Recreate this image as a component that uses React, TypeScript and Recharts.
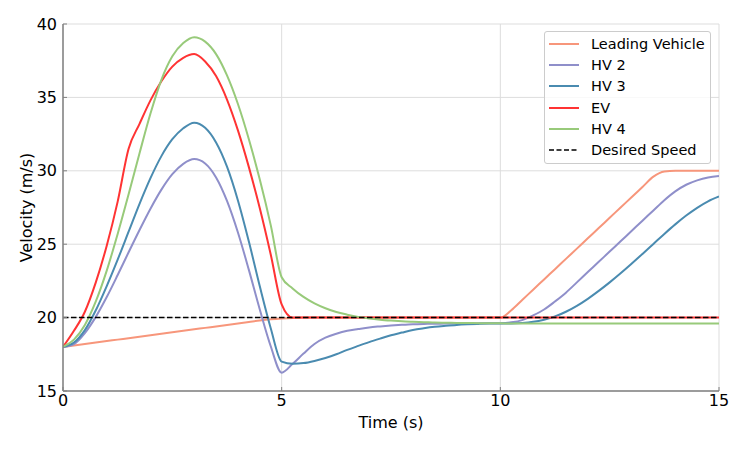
import { LineChart, Line, XAxis, YAxis, CartesianGrid, Legend, Label, ReferenceLine } from 'recharts';

// sampling grid, 0.25 s steps from 0 to 15 s
const TIME = Array.from({ length: 61 }, (_, i) => i * 0.25);

const LEADING = [
  18.0, 18.1, 18.2, 18.3, 18.4,
  18.5, 18.6, 18.7, 18.8,
  18.9, 19.0, 19.1, 19.2,
  19.3, 19.4, 19.5, 19.6,
  19.7, 19.8, 19.88, 19.94,
  19.98, 20, 20, 20,
  20, 20, 20, 20,
  20, 20, 20, 20,
  20, 20, 20, 20,
  20, 20, 20, 20,
  20.5, 21.2, 21.9, 22.6,
  23.3, 24.0, 24.7, 25.4,
  26.1, 26.8, 27.5, 28.2,
  28.9, 29.6, 29.95, 30,
  30, 30, 30, 30,
];

const HV2 = [
  18.0, 18.2, 18.95, 20.05, 21.4,
  22.9, 24.45, 25.97, 27.42,
  28.72, 29.77, 30.47, 30.8,
  30.5, 29.55, 27.95, 25.8,
  23.25, 20.55, 18.05, 16.25,
  16.85, 17.55, 18.2, 18.63,
  18.9, 19.1, 19.22, 19.33,
  19.4, 19.46, 19.51, 19.55,
  19.57, 19.58, 19.59, 19.6,
  19.6, 19.61, 19.61, 19.62,
  19.68, 19.83, 20.15, 20.55,
  21.1, 21.7, 22.4, 23.1,
  23.8, 24.5, 25.2, 25.9,
  26.6, 27.3, 28.0, 28.6,
  29.05, 29.35, 29.55, 29.65,
];

const HV3 = [
  18.0, 18.3, 19.15, 20.5, 22.15,
  23.95, 25.85, 27.75, 29.5,
  31.0, 32.15, 32.9, 33.28,
  32.93, 31.93, 30.28, 27.98,
  25.18, 22.13, 19.28, 17.0,
  16.85, 16.9, 17.05, 17.25,
  17.5, 17.8, 18.07, 18.33,
  18.57, 18.8, 18.98, 19.15,
  19.27, 19.37, 19.44, 19.5,
  19.54, 19.57, 19.59, 19.6,
  19.6, 19.63, 19.71, 19.86,
  20.08, 20.4, 20.8, 21.28,
  21.82, 22.4, 23.02, 23.67,
  24.34, 25.02, 25.7, 26.35,
  26.95, 27.48, 27.92, 28.25,
];

const EV = [
  18.0, 19.1, 20.4, 22.4, 24.9,
  27.9, 31.5, 33.2, 34.8,
  36.1, 37.1, 37.7, 37.95,
  37.45, 36.45, 34.85, 32.75,
  30.25, 27.45, 24.3, 20.9,
  20, 20, 20, 20,
  20, 20, 20, 20,
  20, 20, 20, 20,
  20, 20, 20, 20,
  20, 20, 20, 20,
  20, 20, 20, 20,
  20, 20, 20, 20,
  20, 20, 20, 20,
  20, 20, 20, 20,
  20, 20, 20, 20,
];

const HV4 = [
  18.0, 18.5, 19.5, 21.1, 23.2,
  25.7, 28.4, 31.2, 33.9,
  36.2, 37.8, 38.7, 39.1,
  38.8, 37.95, 36.5, 34.55,
  32.15, 29.4, 26.3, 22.75,
  21.99, 21.41, 20.97, 20.64,
  20.38, 20.2, 20.05, 19.94,
  19.86, 19.8, 19.75, 19.71,
  19.69, 19.66, 19.65, 19.64,
  19.63, 19.62, 19.61, 19.61,
  19.6, 19.6, 19.6, 19.6,
  19.6, 19.6, 19.6, 19.6,
  19.6, 19.6, 19.6, 19.6,
  19.6, 19.6, 19.6, 19.6,
  19.6, 19.6, 19.6, 19.6,
];

const DESIRED_SPEED = 20;

const X_TICKS = [0, 5, 10, 15];
const Y_TICKS = [15, 20, 25, 30, 35, 40];

const SERIES = [
  { key: 'lead', name: 'Leading Vehicle', color: '#f7967b', values: LEADING },
  { key: 'hv2', name: 'HV 2', color: '#8f8fca', values: HV2 },
  { key: 'hv3', name: 'HV 3', color: '#4a8bb0', values: HV3 },
  { key: 'ev', name: 'EV', color: '#ff3333', values: EV },
  { key: 'hv4', name: 'HV 4', color: '#98ca7a', values: HV4 },
];

const chartData = TIME.map((t, i) => {
  const row: Record<string, number> = { t };
  SERIES.forEach((s) => {
    row[s.key] = s.values[i];
  });
  return row;
});

const FONT = '"DejaVu Sans", sans-serif';

function LegendBox() {
  const items = [
    ...SERIES.map((s) => ({ name: s.name, color: s.color, dash: undefined as string | undefined, width: 2 })),
    { name: 'Desired Speed', color: '#000', dash: '5 2.5', width: 1.5 },
  ];
  return (
    <div
      style={{
        border: '1px solid #cccccc',
        borderRadius: 3,
        background: 'rgba(255,255,255,0.8)',
        padding: '1px 4px 2px 4px',
        fontSize: 14.5,
        fontFamily: FONT,
        color: '#000',
      }}
    >
      {items.map((it) => (
        <div key={it.name} style={{ display: 'flex', alignItems: 'center', height: 21.3 }}>
          <svg width={30} height={4} style={{ display: 'block' }}>
            <line x1={0} y1={2} x2={30} y2={2} stroke={it.color} strokeWidth={it.width} strokeDasharray={it.dash} />
          </svg>
          <span style={{ marginLeft: 12, whiteSpace: 'nowrap' }}>{it.name}</span>
        </div>
      ))}
    </div>
  );
}

export default function App() {
  return (
    <div style={{ fontFamily: FONT }}>
      <LineChart width={731} height={433} data={chartData} margin={{ top: 16, right: 20, bottom: 0, left: 0 }}>
        <CartesianGrid stroke="#dddddd" />
        <XAxis
          dataKey="t"
          type="number"
          domain={[0, 15]}
          ticks={X_TICKS}
          allowDataOverflow
          height={50}
          axisLine={{ stroke: '#808080', strokeWidth: 1.5 }}
          tickLine={{ stroke: '#808080' }}
          tickSize={-4}
          tickMargin={8}
          tick={{ fill: '#000', fontSize: 16 }}
        >
          <Label
            content={({ viewBox }: any) => (
              <text x={viewBox.x + viewBox.width / 2} y={viewBox.y + 36.5} textAnchor="middle" fontSize={16} fill="#000">
                Time (s)
              </text>
            )}
          />
        </XAxis>
        <XAxis
          xAxisId="top"
          orientation="top"
          dataKey="t"
          type="number"
          domain={[0, 15]}
          ticks={X_TICKS}
          allowDataOverflow
          height={0}
          axisLine={{ stroke: '#222' }}
          tickLine={{ stroke: '#222' }}
          tickSize={-4}
          tickFormatter={() => ''}
        />
        <YAxis
          type="number"
          domain={[15, 40]}
          ticks={Y_TICKS}
          allowDataOverflow
          width={55}
          axisLine={{ stroke: '#808080', strokeWidth: 1.5 }}
          tickLine={{ stroke: '#808080' }}
          tickSize={-4}
          tickMargin={10}
          tick={{ fill: '#000', fontSize: 16 }}
        >
          <Label
            content={({ viewBox }: any) => {
              const x = viewBox.x + 24;
              const y = viewBox.y + viewBox.height / 2;
              return (
                <text x={x} y={y} transform={`rotate(-90 ${x} ${y})`} textAnchor="middle" fontSize={16} fill="#000">
                  Velocity (m/s)
                </text>
              );
            }}
          />
        </YAxis>
        <YAxis
          yAxisId="right"
          orientation="right"
          type="number"
          domain={[15, 40]}
          ticks={Y_TICKS}
          allowDataOverflow
          width={0}
          axisLine={{ stroke: '#222' }}
          tickLine={{ stroke: '#222' }}
          tickSize={-4}
          tickFormatter={() => ''}
        />
        {SERIES.map((s) => (
          <Line
            key={s.key}
            dataKey={s.key}
            name={s.name}
            type="monotone"
            stroke={s.color}
            strokeWidth={2}
            dot={false}
            activeDot={false}
            isAnimationActive={false}
          />
        ))}
        <ReferenceLine y={DESIRED_SPEED} stroke="#000" strokeWidth={1.5} strokeDasharray="5.5 2.5" />
        <Legend
          layout="vertical"
          align="center"
          verticalAlign="middle"
          content={() => <LegendBox />}
          wrapperStyle={{ left: 536, top: 23, width: 167 }}
        />
      </LineChart>
    </div>
  );
}
